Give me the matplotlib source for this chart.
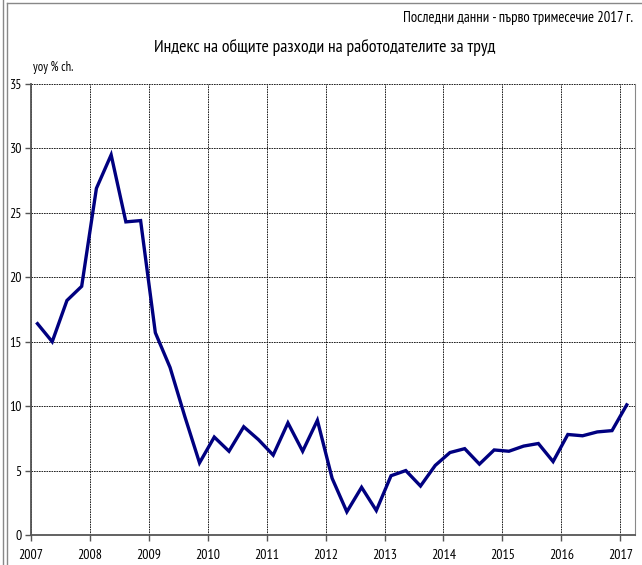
import matplotlib.pyplot as plt
import matplotlib.lines as mlines
import numpy as np

plt.rcParams['font.family'] = ['PT Sans Narrow', 'DejaVu Sans']

# quarterly, 2007 Q1 .. 2017 Q1
start_year = 2007
values = [16.4, 15.0, 18.2, 19.3,
          26.9, 29.5, 24.3, 24.4,
          15.7, 13.0, 9.2, 5.6,
          7.6, 6.5, 8.4, 7.4,
          6.2, 8.7, 6.5, 8.9,
          4.4, 1.8, 3.7, 1.9,
          4.6, 5.0, 3.8, 5.4,
          6.4, 6.7, 5.5, 6.6,
          6.5, 6.9, 7.1, 5.7,
          7.8, 7.7, 8.0, 8.1,
          10.1]
years = list(range(2007, 2018))
yticks = [0, 5, 10, 15, 20, 25, 30, 35]

x = start_year + 0.11 + 0.25 * np.arange(len(values))

fig = plt.figure(figsize=(6.42, 5.65), dpi=100)
ax = fig.add_axes([31/642, 1 - 535/565, (635 - 31)/642, (535 - 84)/565])

ax.plot(x, values, color='#000080', lw=2.4, solid_joinstyle='miter', zorder=3)

ax.set_xlim(2007, 2017.25)
ax.set_ylim(0, 35)
ax.set_xticks(years)
ax.set_yticks(yticks)
ax.tick_params(axis='both', labelsize=10, color='#555555', length=4, width=1)
ax.tick_params(axis='x', pad=6)
ax.tick_params(axis='y', pad=3)
ax.grid(True, color='black', linestyle=(0, (2, 1)), linewidth=0.6)
for s in ['left', 'bottom']:
    ax.spines[s].set_color('#555555')
    ax.spines[s].set_linewidth(1.3)
ax.spines['top'].set_visible(False)
ax.spines['right'].set_color('#888888')

fig.text(325/642, 1 - 47/565, 'Индекс на общите разходи на работодателите за труд',
         ha='center', va='center', fontsize=12.8)
fig.text(633/642, 1 - 18/565, 'Последни данни - първо тримесечие 2017 г.',
         ha='right', va='center', fontsize=10.6)
fig.text(33/642, 1 - 67/565, 'yoy % ch.', ha='left', va='center', fontsize=9)

# frame lines around the figure
fig.add_artist(mlines.Line2D([2.5/642, 2.5/642], [0, 1], color='#888888', lw=1))
fig.add_artist(mlines.Line2D([7/642, 7/642], [0, 1 - 3/565], color='#888888', lw=1))
fig.add_artist(mlines.Line2D([7/642, 1], [1 - 3/565, 1 - 3/565], color='#888888', lw=1))

plt.savefig('out.png', dpi=100)
